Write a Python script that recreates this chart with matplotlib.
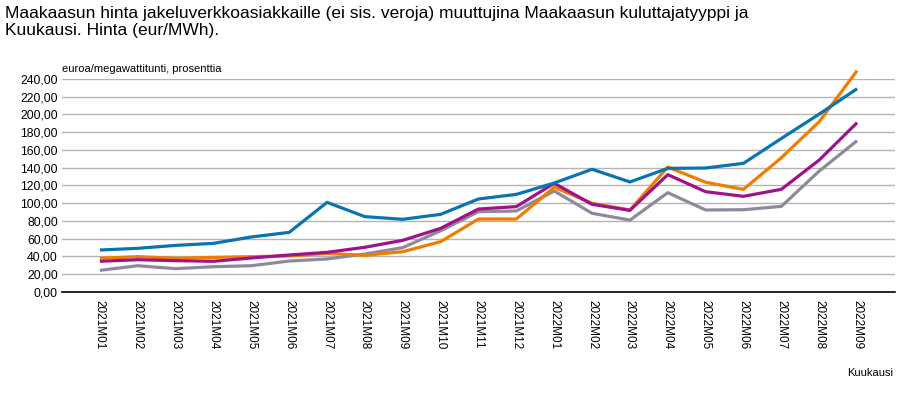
import matplotlib
matplotlib.use("Agg")
import matplotlib.pyplot as plt

plt.rcParams["font.family"] = ["Liberation Sans", "DejaVu Sans"]

months = ["2021M01", "2021M02", "2021M03", "2021M04", "2021M05", "2021M06",
          "2021M07", "2021M08", "2021M09", "2021M10", "2021M11", "2021M12",
          "2022M01", "2022M02", "2022M03", "2022M04", "2022M05", "2022M06",
          "2022M07", "2022M08", "2022M09"]

blue = [47.3, 49.2, 52.5, 54.8, 62.0, 67.2, 101.0, 84.9, 81.9, 87.5, 104.8,
        110.0, 122.8, 138.3, 124.0, 139.3, 139.7, 145.0, 173.0, 200.5, 229.0]
orange = [38.0, 39.8, 38.0, 39.0, 39.8, 40.6, 43.5, 41.3, 45.4, 56.7, 82.2,
          82.2, 118.0, 100.0, 92.4, 140.8, 123.6, 115.7, 151.3, 191.9, 249.4]
purple = [34.6, 36.4, 35.3, 34.6, 38.3, 41.7, 44.7, 50.4, 58.2, 71.7, 93.5,
          96.2, 122.5, 98.8, 92.0, 132.2, 113.0, 107.8, 115.7, 148.7, 190.8]
gray = [24.4, 29.6, 26.3, 28.5, 29.6, 34.9, 37.2, 42.8, 50.0, 69.0, 90.5,
        91.3, 113.8, 88.7, 81.0, 111.9, 92.4, 92.7, 96.5, 136.3, 170.5]

yticks = list(range(0, 241, 20))

fig = plt.figure(figsize=(9, 3.93), dpi=100)
ax = fig.add_axes([0.0689, 0.257, 0.9255, 0.542])

x = list(range(len(months)))
# series drawn in the reference's stacking order, no clipping (orange exceeds 240)
for series, col in [(gray, "#8e8a9c"), (orange, "#f07d00"),
                    (purple, "#a0128c"), (blue, "#0a74b0")]:
    ax.plot(x, series, color=col, lw=2.3, solid_capstyle="butt", clip_on=False)

ax.set_xlim(-1, len(months))
ax.set_ylim(0, 240)
ax.set_yticks(yticks)
ax.set_yticklabels([f"{v:.2f}".replace(".", ",") for v in yticks], fontsize=8.8)
ax.set_xticks(x)
ax.set_xticklabels(months, rotation=-90, fontsize=8.5, va="top", ha="center")
ax.tick_params(axis="both", length=0)
ax.tick_params(axis="x", pad=6)
ax.tick_params(axis="y", pad=3)
ax.grid(axis="y", color="#b4b4b4", lw=1)
ax.set_axisbelow(True)
for s in ["top", "right", "left"]:
    ax.spines[s].set_visible(False)
ax.spines["bottom"].set_color("black")
ax.spines["bottom"].set_linewidth(1.2)
ax.spines["bottom"].set_zorder(5)

fig.text(0.006, 0.985,
         "Maakaasun hinta jakeluverkkoasiakkaille (ei sis. veroja) muuttujina "
         "Maakaasun kuluttajatyyppi ja\nKuukausi. Hinta (eur/MWh).",
         fontsize=12.5, va="top", ha="left", linespacing=1.2)
fig.text(0.0689, 0.812, "euroa/megawattitunti, prosenttia", fontsize=8,
         va="bottom", ha="left")
fig.text(0.992, 0.05, "Kuukausi", fontsize=8, va="center", ha="right")

fig.savefig("out.png", dpi=100)
